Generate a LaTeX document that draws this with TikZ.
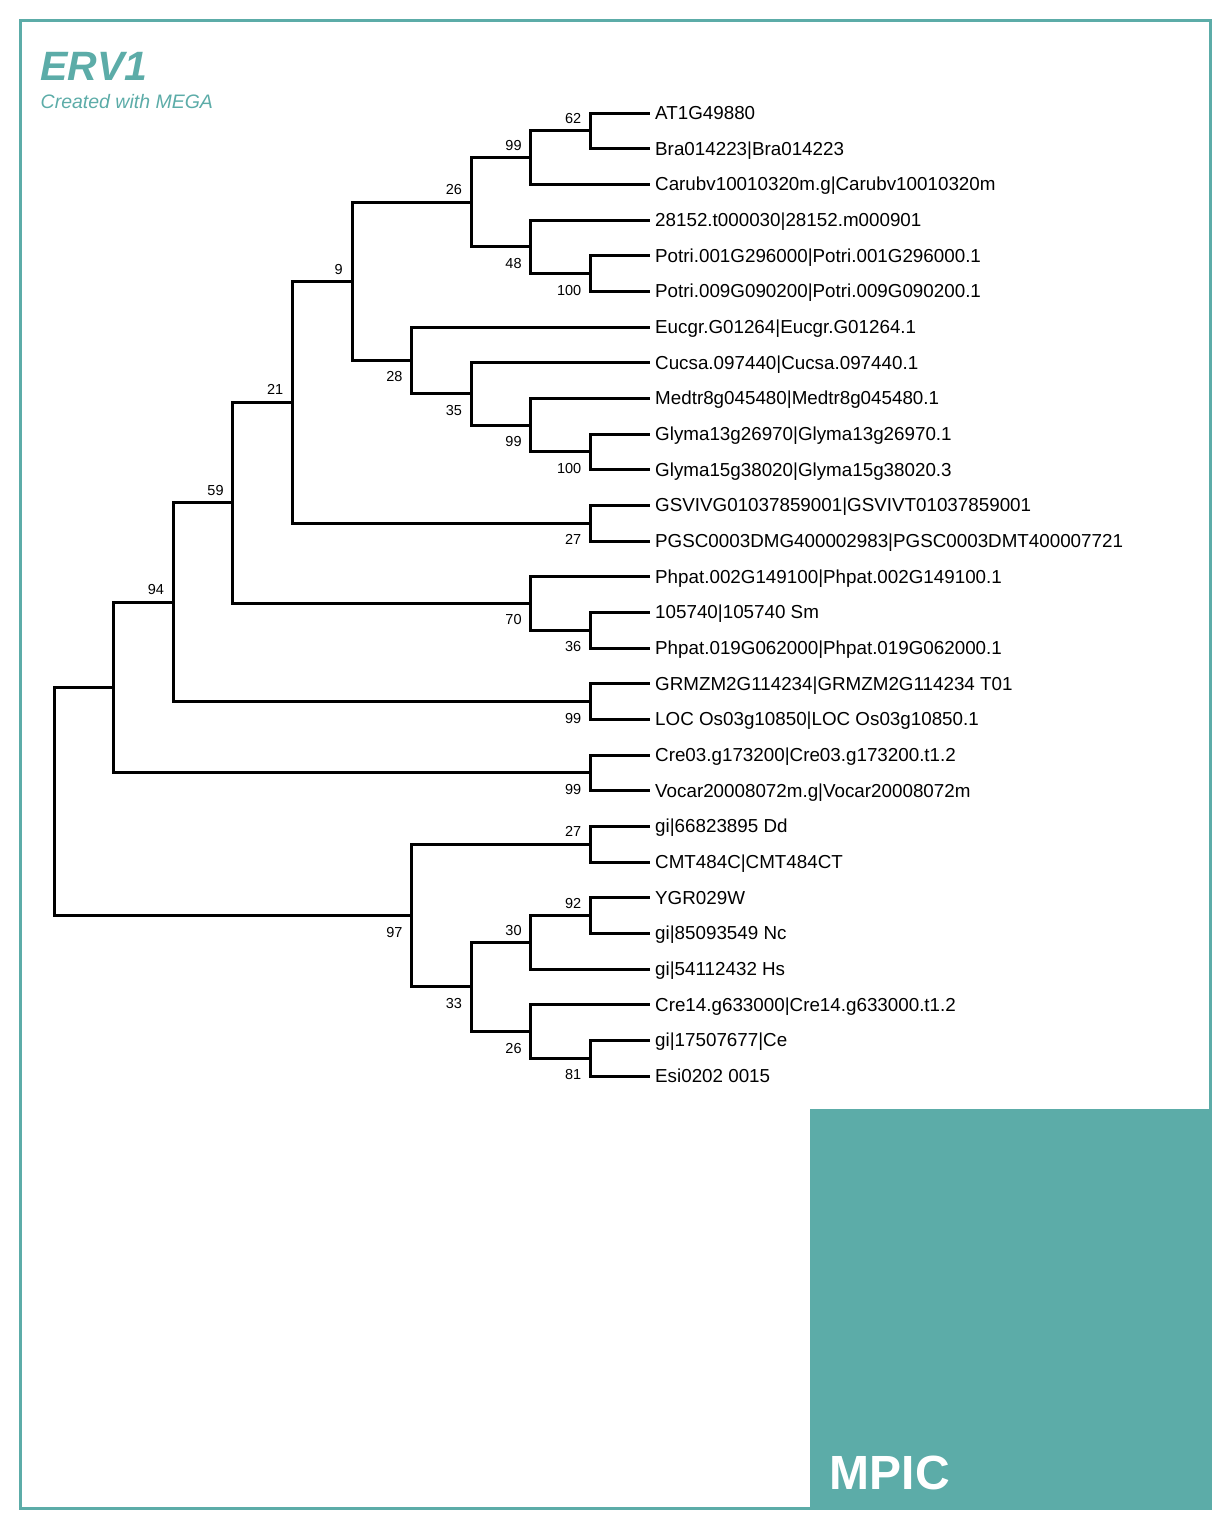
\documentclass[tikz,border=0pt]{standalone}
\usepackage{fontspec}
\setmainfont{Liberation Sans}
\usetikzlibrary{calc}
\definecolor{megateal}{RGB}{92,172,168}
% one clade: name, depth level, upper child, lower child
\newcommand\clade[4]{%
  \path let \p1=(#3), \p2=(#4) in coordinate (#1) at ({(650-59.6*#2)*1pt},{0.5*\y1+0.5*\y2});
  \draw[branch] (#1) |- (#3) (#1) |- (#4);}
\tikzset{
  branch/.style={line width=3pt},
  leaf/.style={anchor=west,inner xsep=5pt,inner ysep=0pt,text height=16.9pt,text depth=4pt,font=\fontsize{18.8}{22}\selectfont},
  boot/.style={inner sep=0pt,anchor=base east,xshift=-9pt,font=\fontsize{14.5}{17}\selectfont},
  bs above/.style={boot,yshift=7.3pt},
  bs below/.style={boot,yshift=-21.5pt},
}

\begin{document}
\begin{tikzpicture}[x=1pt,y=-1pt]
\useasboundingbox (0,0) rectangle (1230,1529);
% frame and logo
\draw[megateal,line width=3pt] (20,20) rectangle (1210,1508.5);
\fill[megateal] (810,1109) rectangle (1211.5,1510);
\node[anchor=base west,inner sep=0pt,text=white,font=\fontsize{48}{58}\selectfont\bfseries] (logo) at (829.5,1489) {MPIC};
\node[anchor=base west,inner sep=0pt,text=megateal,font=\fontsize{41}{48}\selectfont\bfseries\itshape] (title) at (40,80.7) {ERV1};
\node[anchor=base west,inner sep=0pt,text=megateal,font=\fontsize{19.5}{23}\selectfont\itshape] (subtitle) at (40.5,108.3) {Created with MEGA};

% leaves
\foreach \name [count=\i] in {AT1G49880,Bra014223|Bra014223,Carubv10010320m.g|Carubv10010320m,
  28152.t000030|28152.m000901,Potri.001G296000|Potri.001G296000.1,Potri.009G090200|Potri.009G090200.1,
  Eucgr.G01264|Eucgr.G01264.1,Cucsa.097440|Cucsa.097440.1,Medtr8g045480|Medtr8g045480.1,
  Glyma13g26970|Glyma13g26970.1,Glyma15g38020|Glyma15g38020.3,GSVIVG01037859001|GSVIVT01037859001,
  PGSC0003DMG400002983|PGSC0003DMT400007721,Phpat.002G149100|Phpat.002G149100.1,105740|105740 Sm,
  Phpat.019G062000|Phpat.019G062000.1,GRMZM2G114234|GRMZM2G114234 T01,LOC Os03g10850|LOC Os03g10850.1,
  Cre03.g173200|Cre03.g173200.t1.2,Vocar20008072m.g|Vocar20008072m,gi|66823895 Dd,CMT484C|CMT484CT,
  YGR029W,gi|85093549 Nc,gi|54112432 Hs,Cre14.g633000|Cre14.g633000.t1.2,gi|17507677|Ce,Esi0202 0015}
  \node[leaf] (l\i) at (650,{113+35.67*(\i-1)}) {\name};

% clades
\clade{n62}{1}{l1.west}{l2.west}
\clade{n99a}{2}{n62}{l3.west}
\clade{n100a}{1}{l5.west}{l6.west}
\clade{n48}{2}{l4.west}{n100a}
\clade{n26a}{3}{n99a}{n48}
\clade{n100b}{1}{l10.west}{l11.west}
\clade{n99b}{2}{l9.west}{n100b}
\clade{n35}{3}{l8.west}{n99b}
\clade{n28}{4}{l7.west}{n35}
\clade{n9}{5}{n26a}{n28}
\clade{n27a}{1}{l12.west}{l13.west}
\clade{n21}{6}{n9}{n27a}
\clade{n36}{1}{l15.west}{l16.west}
\clade{n70}{2}{l14.west}{n36}
\clade{n59}{7}{n21}{n70}
\clade{n99c}{1}{l17.west}{l18.west}
\clade{n94}{8}{n59}{n99c}
\clade{n99d}{1}{l19.west}{l20.west}
\clade{nx}{9}{n94}{n99d}
\clade{n27b}{1}{l21.west}{l22.west}
\clade{n92}{1}{l23.west}{l24.west}
\clade{n30}{2}{n92}{l25.west}
\clade{n81}{1}{l27.west}{l28.west}
\clade{n26b}{2}{l26.west}{n81}
\clade{n33}{3}{n30}{n26b}
\clade{n97}{4}{n27b}{n33}
\clade{root}{10}{nx}{n97}

% bootstrap values
\node[bs above] (b62) at (n62) {62};
\node[bs above] (b99a) at (n99a) {99};
\node[bs below] (b100a) at (n100a) {100};
\node[bs below] (b48) at (n48) {48};
\node[bs above] (b26a) at (n26a) {26};
\node[bs below] (b100b) at (n100b) {100};
\node[bs below] (b99b) at (n99b) {99};
\node[bs below] (b35) at (n35) {35};
\node[bs below] (b28) at (n28) {28};
\node[bs above] (b9) at (n9) {9};
\node[bs below] (b27a) at (n27a) {27};
\node[bs above] (b21) at (n21) {21};
\node[bs below] (b36) at (n36) {36};
\node[bs below] (b70) at (n70) {70};
\node[bs above] (b59) at (n59) {59};
\node[bs below] (b99c) at (n99c) {99};
\node[bs above] (b94) at (n94) {94};
\node[bs below] (b99d) at (n99d) {99};
\node[bs above] (b27b) at (n27b) {27};
\node[bs above] (b92) at (n92) {92};
\node[bs above] (b30) at (n30) {30};
\node[bs below] (b81) at (n81) {81};
\node[bs below] (b26b) at (n26b) {26};
\node[bs below] (b33) at (n33) {33};
\node[bs below] (b97) at (n97) {97};
\end{tikzpicture}
\end{document}
